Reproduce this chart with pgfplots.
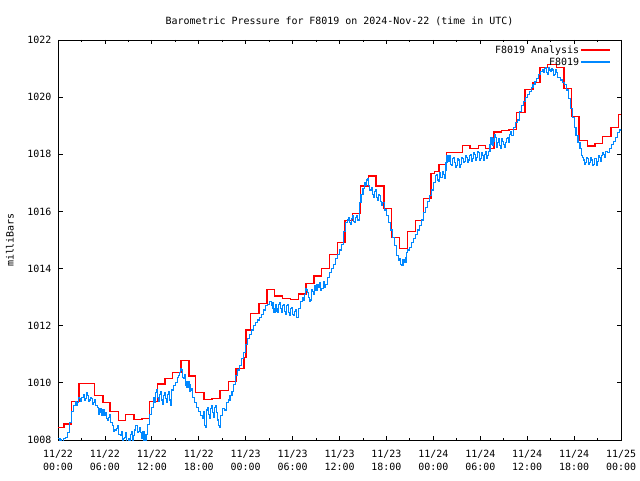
\documentclass[border=0pt]{standalone}
\usepackage{fontspec}
\setmainfont{DejaVu Sans Mono}
\usepackage{pgfplots}
\pgfplotsset{compat=1.18}
\definecolor{ared}{RGB}{255,0,0}
\definecolor{sblue}{RGB}{0,136,255}
\begin{document}
\begin{tikzpicture}[font=\fontsize{10}{13}\selectfont]
\begin{axis}[
  name=ax, scale only axis, width=563bp, height=400bp,
  xmin=0, xmax=72, ymin=1008, ymax=1022,
  xtick={0,6,...,72}, minor x tick num=1,
  ytick={1008,1010,...,1022},
  xticklabels={11/22\\00:00,11/22\\06:00,11/22\\12:00,11/22\\18:00,11/23\\00:00,11/23\\06:00,11/23\\12:00,11/23\\18:00,11/24\\00:00,11/24\\06:00,11/24\\12:00,11/24\\18:00,11/25\\00:00},
  xticklabel style={align=center, yshift=-7bp},
  yticklabel style={xshift=-3bp},
  /pgf/number format/assume math mode=true,
  /pgf/number format/1000 sep={},
  tick align=inside, tick pos=both,
  major tick length=4.5bp, minor tick length=2.5bp,
  tick style={black, line width=0.8bp},
  axis line style={line width=0.8bp},
  title={Barometric Pressure for F8019 on 2024-Nov-22 (time in UTC)},
  title style={at={(axis description cs:0.5,1)}, anchor=base, yshift=10bp},
  ylabel={milliBars},
  ylabel style={at={(axis description cs:-0.0853,0.5)}, anchor=center},
  legend style={at={(axis description cs:1,1)}, anchor=north east, draw=none, fill=none, xshift=-8bp, yshift=-2bp, row sep=0bp, nodes={inner sep=1.5bp}},
  legend cell align=right, legend plot pos=right,
  legend image code/.code={\fill[#1] (0bp,-0.65bp) rectangle (28bp,0.65bp);},
]
\addplot[const plot, ared, line width=1.2bp] coordinates {
(0,1008.44) (0.77,1008.56) (1.75,1009.35) (2.69,1009.98) (4.65,1009.57) (5.75,1009.32)
(6.65,1008.99) (7.7,1008.68) (8.65,1008.90) (9.72,1008.73) (10.75,1008.76) (11.72,1009.35)
(12.7,1009.96) (13.68,1010.16) (14.66,1010.37) (15.73,1010.79) (16.75,1010.24) (17.6,1009.67)
(18.67,1009.42) (19.7,1009.46) (20.72,1009.74) (21.78,1010.05) (22.77,1010.49) (23.79,1010.90)
(24.04,1011.85) (24.64,1012.43) (25.7,1012.78) (26.73,1013.27) (27.67,1013.04) (28.69,1012.96)
(29.71,1012.92) (30.74,1013.11) (31.72,1013.48) (32.74,1013.74) (33.72,1014.01) (34.7,1014.48)
(35.72,1014.92) (36.7,1015.67) (37.68,1015.93) (38.71,1016.89) (39.69,1017.24) (40.67,1016.89)
(41.7,1016.09) (42.68,1015.09) (43.7,1014.71) (44.68,1015.31) (45.75,1015.68) (46.7,1016.46)
(47.7,1017.33) (48.1,1017.40) (48.73,1017.65) (49.71,1018.07) (51.71,1018.31) (52.69,1018.21)
(53.76,1018.31) (54.7,1018.21) (55.76,1018.78) (56.74,1018.83) (57.68,1018.87) (58.66,1019.47)
(59.73,1020.27) (60.75,1020.52) (61.64,1021.05) (62.6,1021.15) (63.7,1021.05) (64.7,1020.31)
(65.7,1019.32) (66.63,1018.48) (67.7,1018.29) (68.68,1018.38) (69.66,1018.62) (70.72,1018.94)
(71.66,1019.38) (72,1019.38)
};
\addlegendentry{F8019 Analysis}
\addplot[const plot, sblue, line width=1.1bp] coordinates {
(0.0,1008.05) (0.25,1008.0) (0.5,1007.95) (0.75,1008.05) (1.0,1008.1) (1.25,1008.25) (1.5,1008.6) (1.75,1009.0)
(2.0,1009.2) (2.25,1009.35) (2.375,1009.2) (2.5,1009.3) (2.625,1009.5) (2.75,1009.45) (2.875,1009.35) (3.0,1009.5)
(3.25,1009.6) (3.375,1009.4) (3.5,1009.45) (3.625,1009.65) (3.75,1009.55) (3.875,1009.35) (4.0,1009.4) (4.125,1009.5)
(4.25,1009.45) (4.375,1009.25) (4.5,1009.3) (4.625,1009.4) (4.75,1009.2) (5.0,1009.15) (5.125,1008.9) (5.25,1009.0)
(5.375,1009.1) (5.5,1008.95) (5.625,1008.85) (5.75,1009.05) (6.0,1008.85) (6.125,1008.95) (6.25,1008.75) (6.375,1008.7)
(6.5,1008.8) (6.625,1008.9) (6.75,1008.6) (7.0,1008.5) (7.125,1008.3) (7.25,1008.35) (7.5,1008.4) (7.625,1008.5)
(7.75,1008.2) (8.0,1008.15) (8.125,1008.3) (8.25,1008.0) (8.375,1008.05) (8.5,1008.1) (8.625,1008.25) (8.75,1007.95)
(9.0,1008.05) (9.125,1007.95) (9.25,1008.2) (9.375,1008.3) (9.5,1008.0) (9.625,1008.15) (9.75,1008.35) (9.875,1008.5)
(10.0,1008.5) (10.125,1008.25) (10.25,1008.3) (10.375,1008.45) (10.5,1008.25) (10.625,1008.05) (10.75,1008.1) (10.875,1008.3)
(11.0,1008.0) (11.25,1008.2) (11.5,1008.55) (11.75,1008.9) (12.0,1009.15) (12.25,1009.5) (12.375,1009.3) (12.5,1009.65)
(12.625,1009.75) (12.75,1009.5) (12.875,1009.35) (13.0,1009.6) (13.125,1009.7) (13.25,1009.4) (13.375,1009.25) (13.5,1009.55)
(13.625,1009.65) (13.75,1009.45) (13.875,1009.3) (14.0,1009.6) (14.125,1009.7) (14.25,1009.4) (14.375,1009.2) (14.5,1009.75)
(14.75,1009.9) (15.0,1010.0) (15.25,1010.2) (15.375,1010.25) (15.5,1010.35) (15.625,1010.5) (15.75,1010.45) (15.875,1010.2)
(16.0,1010.15) (16.125,1010.3) (16.25,1010.05) (16.375,1009.9) (16.5,1009.85) (16.625,1010.05) (16.75,1009.95) (16.875,1009.7)
(17.0,1009.75) (17.125,1009.8) (17.25,1009.5) (17.5,1009.3) (17.75,1009.15) (18.0,1009.0) (18.25,1008.85) (18.5,1008.75)
(18.625,1009.0) (18.75,1008.5) (18.875,1008.45) (19.0,1009.05) (19.125,1009.15) (19.25,1008.9) (19.375,1008.75) (19.5,1009.1)
(19.625,1009.2) (19.75,1008.95) (19.875,1008.8) (20.0,1009.15) (20.125,1009.2) (20.25,1008.95) (20.375,1008.7) (20.5,1008.5)
(20.625,1008.45) (20.75,1008.85) (21.0,1009.1) (21.25,1009.05) (21.5,1009.3) (21.75,1009.4) (22.0,1009.55) (22.25,1009.7)
(22.5,1009.95) (22.75,1010.25) (23.0,1010.45) (23.25,1010.6) (23.5,1010.85) (23.75,1011.05) (24.0,1011.35) (24.25,1011.55)
(24.5,1011.7) (24.75,1011.85) (25.0,1012.0) (25.25,1012.1) (25.5,1012.2) (25.75,1012.3) (26.0,1012.4) (26.25,1012.55)
(26.5,1012.7) (26.75,1012.75) (27.0,1012.85) (27.25,1012.7) (27.375,1012.8) (27.5,1012.6) (27.625,1012.45) (27.75,1012.5)
(27.875,1012.75) (28.0,1012.6) (28.125,1012.45) (28.25,1012.75) (28.375,1012.8) (28.5,1012.6) (28.625,1012.45) (28.75,1012.7)
(28.875,1012.75) (29.0,1012.5) (29.125,1012.4) (29.25,1012.7) (29.375,1012.75) (29.5,1012.45) (29.625,1012.35) (29.75,1012.6)
(29.875,1012.65) (30.0,1012.4) (30.125,1012.35) (30.25,1012.5) (30.375,1012.55) (30.5,1012.3) (30.625,1012.3) (30.75,1012.6)
(31.0,1012.85) (31.25,1013.0) (31.375,1012.9) (31.5,1013.1) (31.625,1013.3) (31.75,1013.25) (31.875,1013.15) (32.0,1013.0)
(32.125,1012.85) (32.25,1012.9) (32.375,1013.25) (32.5,1013.2) (32.625,1013.1) (32.75,1013.4) (33.0,1013.25) (33.125,1013.45)
(33.25,1013.35) (33.5,1013.5) (33.625,1013.25) (33.75,1013.3) (34.0,1013.55) (34.125,1013.35) (34.25,1013.45) (34.5,1013.7)
(34.75,1013.85) (35.0,1014.0) (35.25,1014.15) (35.5,1014.35) (35.75,1014.5) (36.0,1014.65) (36.25,1014.85) (36.5,1015.3)
(36.75,1015.6) (37.0,1015.7) (37.125,1015.8) (37.25,1015.6) (37.375,1015.55) (37.5,1015.75) (37.625,1015.85) (37.75,1015.65)
(37.875,1015.6) (38.0,1015.8) (38.125,1015.85) (38.25,1015.7) (38.5,1016.3) (38.75,1016.6) (39.0,1016.8) (39.25,1017.0)
(39.375,1016.9) (39.5,1017.1) (39.625,1017.15) (39.75,1016.9) (39.875,1016.75) (40.0,1016.75) (40.125,1016.85) (40.25,1016.6)
(40.375,1016.5) (40.5,1016.7) (40.625,1016.75) (40.75,1016.5) (40.875,1016.4) (41.0,1016.6) (41.125,1016.55) (41.25,1016.35)
(41.375,1016.2) (41.5,1016.3) (41.75,1016.05) (42.0,1015.85) (42.25,1015.6) (42.5,1015.35) (42.75,1015.1) (43.0,1014.8)
(43.25,1014.45) (43.5,1014.3) (43.625,1014.35) (43.75,1014.15) (43.875,1014.1) (44.0,1014.12) (44.125,1014.3) (44.25,1014.25)
(44.375,1014.2) (44.5,1014.4) (44.625,1014.55) (44.75,1014.65) (45.0,1014.75) (45.25,1014.9) (45.5,1015.05) (45.75,1015.2)
(46.0,1015.35) (46.25,1015.5) (46.5,1015.7) (46.75,1015.95) (47.0,1016.15) (47.25,1016.35) (47.5,1016.55) (47.75,1016.75)
(48.0,1017.0) (48.25,1017.25) (48.375,1017.3) (48.5,1017.1) (48.625,1017.05) (48.75,1017.35) (48.875,1017.2) (49.0,1017.2)
(49.125,1017.4) (49.25,1017.3) (49.375,1017.15) (49.5,1017.45) (49.625,1017.7) (49.75,1017.95) (49.875,1017.75) (50.0,1017.8)
(50.125,1017.95) (50.25,1017.65) (50.375,1017.6) (50.5,1017.85) (50.625,1017.9) (50.75,1017.7) (50.875,1017.55) (51.0,1017.6)
(51.125,1017.85) (51.25,1017.8) (51.375,1017.55) (51.5,1017.65) (51.625,1017.9) (51.75,1017.85) (51.875,1017.7) (52.0,1017.75)
(52.125,1017.95) (52.25,1017.9) (52.375,1017.7) (52.5,1017.8) (52.625,1017.95) (52.75,1018.0) (52.875,1017.75) (53.0,1017.85)
(53.125,1018.05) (53.25,1018.0) (53.375,1017.8) (53.5,1017.9) (53.625,1018.1) (53.75,1018.05) (53.875,1017.8) (54.0,1017.85)
(54.125,1018.05) (54.25,1017.95) (54.375,1017.8) (54.5,1018.0) (54.625,1018.1) (54.75,1017.85) (54.875,1017.95) (55.0,1018.1)
(55.25,1018.35) (55.375,1018.6) (55.5,1018.55) (55.625,1018.3) (55.75,1018.45) (55.875,1018.7) (56.0,1018.6) (56.125,1018.25)
(56.25,1018.4) (56.375,1018.55) (56.5,1018.3) (56.625,1018.2) (56.75,1018.55) (56.875,1018.45) (57.0,1018.35) (57.125,1018.25)
(57.25,1018.4) (57.375,1018.55) (57.5,1018.6) (57.625,1018.4) (57.75,1018.7) (57.875,1018.8) (58.0,1018.65) (58.25,1018.95)
(58.5,1019.1) (58.75,1019.2) (59.0,1019.5) (59.25,1019.7) (59.5,1019.85) (59.75,1020.0) (60.0,1020.1) (60.25,1020.2)
(60.5,1020.35) (60.75,1020.45) (61.0,1020.55) (61.25,1020.65) (61.5,1020.8) (61.75,1020.9) (62.0,1020.95) (62.125,1020.85)
(62.25,1021.0) (62.375,1021.05) (62.5,1020.85) (62.625,1020.8) (62.75,1021.05) (62.875,1020.95) (63.0,1020.9) (63.125,1021.0)
(63.25,1020.95) (63.375,1020.75) (63.5,1020.8) (63.625,1020.95) (63.75,1020.85) (63.875,1020.7) (64.0,1020.7) (64.25,1020.6)
(64.5,1020.5) (64.75,1020.45) (65.0,1020.25) (65.25,1019.95) (65.5,1019.6) (65.75,1019.3) (66.0,1018.95) (66.25,1018.65)
(66.5,1018.4) (66.75,1018.2) (67.0,1017.95) (67.125,1017.9) (67.25,1017.8) (67.375,1017.65) (67.5,1017.7) (67.625,1017.9)
(67.75,1017.85) (67.875,1017.65) (68.0,1017.7) (68.125,1017.9) (68.25,1017.8) (68.375,1017.6) (68.5,1017.65) (68.625,1017.85)
(68.75,1017.85) (68.875,1017.6) (69.0,1017.75) (69.125,1017.95) (69.25,1017.9) (69.375,1017.75) (69.5,1017.95) (69.625,1018.05)
(69.75,1018.0) (69.875,1017.9) (70.0,1018.1) (70.25,1018.05) (70.5,1018.2) (70.75,1018.35) (71.0,1018.45) (71.25,1018.6)
(71.5,1018.75) (71.75,1018.85) (72.0,1018.9)
};
\addlegendentry{F8019}
\end{axis}
\pgfresetboundingbox
\path ([shift={(-58bp,-40bp)}]ax.south west) rectangle ([shift={(19bp,40bp)}]ax.north east);
\end{tikzpicture}
\end{document}
